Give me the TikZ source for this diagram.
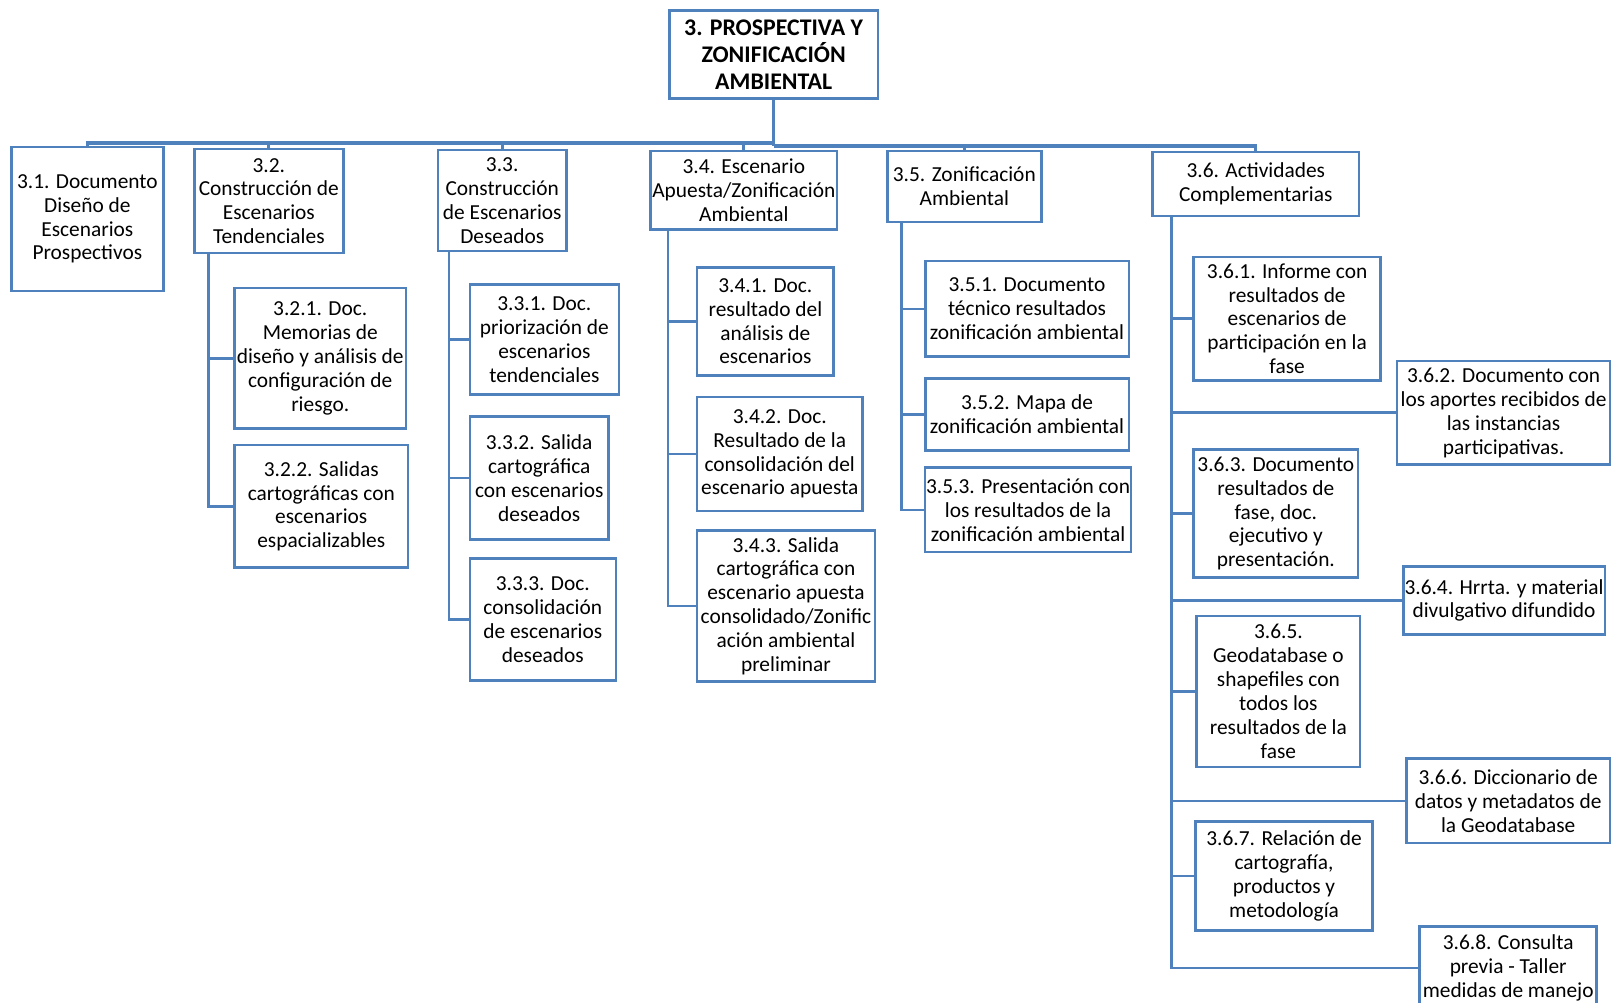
\documentclass[tikz,border=0pt]{standalone}
\usepackage{fontspec}
\setmainfont{Carlito}
\definecolor{bl}{RGB}{79,129,189}
\tikzset{
  box/.style={draw=bl, line width=1.25pt, align=center, inner sep=0.5pt,
    font=\fontsize{10.4}{11.6}\selectfont, text=black},
  rootbox/.style={box, font=\bfseries\fontsize{11.6}{13}\selectfont},
  conn/.style={draw=bl, line width=1.25pt},
  bus/.style={draw=bl, line width=1.6pt}
}
\newcommand\bx[7][box]{\node[#1, minimum width={(#5-#3)*0.5pt}, minimum height={(#6-#4)*0.5pt}] (#2) at ({(#3+#5)/2},{(#4+#6)/2}) {#7};}
\begin{document}
\begin{tikzpicture}[x=0.5pt,y=-0.5pt]
\useasboundingbox[fill=white] (0,0) rectangle (1568,975);
% root
\bx[rootbox]{root}{651}{10}{854}{96}{3. PROSPECTIVA Y\\ZONIFICACIÓN\\AMBIENTAL}
% level 1
\bx{p31}{11}{143}{159}{283}{3.1. Documento\\Diseño de\\Escenarios\\Prospectivos}
\bx{p32}{189}{145}{334}{246}{3.2.\\Construcción de\\Escenarios\\Tendenciales}
\bx{p33}{426}{146}{551}{244}{3.3.\\Construcción\\de Escenarios\\Deseados}
\bx{p34}{633}{147}{814}{223}{3.4. Escenario\\Apuesta/Zonificación\\Ambiental}
\bx{p35}{863}{147}{1013}{216}{3.5. Zonificación\\Ambiental}
\bx{p36}{1121}{148}{1322}{210}{3.6. Actividades\\Complementarias}
% 3.2
\bx{c321}{228}{280}{395}{417}{3.2.1. Doc.\\Memorias de\\diseño y análisis de\\configuración de\\riesgo.}
\bx{c322}{228}{433}{397}{552}{3.2.2. Salidas\\cartográficas con\\escenarios\\espacializables}
% 3.3
\bx{c331}{457}{277}{602}{384}{3.3.1. Doc.\\priorización de\\escenarios\\tendenciales}
\bx{c332}{457}{405}{592}{525}{3.3.2. Salida\\cartográfica\\con escenarios\\deseados}
\bx{c333}{457}{543}{599}{662}{3.3.3. Doc.\\consolidación\\de escenarios\\deseados}
% 3.4
\bx{c341}{678}{260}{811}{365}{3.4.1. Doc.\\resultado del\\análisis de\\escenarios}
\bx{c342}{678}{386}{839}{497}{3.4.2. Doc.\\Resultado de la\\consolidación del\\escenario apuesta}
\bx{c343}{678}{516}{851}{663}{3.4.3. Salida\\cartográfica con\\escenario apuesta\\consolidado/Zonific\\ación ambiental\\preliminar}
% 3.5
\bx{c351}{900}{254}{1098}{347}{3.5.1. Documento\\técnico resultados\\zonificación ambiental}
\bx{c352}{900}{368}{1098}{438}{3.5.2. Mapa de\\zonificación ambiental}
\bx{c353}{900}{455}{1100}{537}{3.5.3. Presentación con\\los resultados de la\\zonificación ambiental}
% 3.6
\bx{c361}{1161}{250}{1343}{370}{3.6.1. Informe con\\resultados de\\escenarios de\\participación en la\\fase}
\bx{c362}{1359}{351}{1566}{452}{3.6.2. Documento con\\los aportes recibidos de\\las instancias\\participativas.}
\bx{c363}{1161}{437}{1321}{562}{3.6.3. Documento\\resultados de\\fase, doc.\\ejecutivo y\\presentación.}
\bx{c364}{1365}{551}{1561}{617}{3.6.4. Hrrta. y material\\divulgativo difundido}
\bx{c365}{1164}{599}{1323}{746}{3.6.5.\\Geodatabase o\\shapefiles con\\todos los\\resultados de la\\fase}
\bx{c366}{1368}{738}{1566}{820}{3.6.6. Diccionario de\\datos y metadatos de\\la Geodatabase}
\bx{c367}{1163}{799}{1335}{905}{3.6.7. Relación de\\cartografía,\\productos y\\metodología}
\bx{c368}{1381}{901}{1553}{982}{3.6.8. Consulta\\previa - Taller\\medidas de manejo}
% top bus
\coordinate (bjL) at (752.5,139);
\coordinate (bjR) at (752.5,142);
\draw[bus] (root.south) -- (bjR);
\draw[bus] (bjL) -| (p31.north);
\draw[bus] (bjL) -| (p32.north);
\draw[bus] (bjL) -| (p33.north);
\draw[bus] (bjL) -| (p34.north);
\draw[bus] (bjR) -| (p35.north);
\draw[bus] (bjR) -| (p36.north);
% 3.2 branch
\draw[conn] ([xshift=7.5pt]p32.south west) |- (c321.west);
\draw[conn] ([xshift=7.5pt]p32.south west) |- (c322.west);
% 3.3 branch
\draw[conn] ([xshift=6pt]p33.south west) |- (c331.west);
\draw[conn] ([xshift=6pt]p33.south west) |- (c332.west);
\draw[conn] ([xshift=6pt]p33.south west) |- (c333.west);
% 3.4 branch
\draw[conn] ([xshift=9pt]p34.south west) |- (c341.west);
\draw[conn] ([xshift=9pt]p34.south west) |- (c342.west);
\draw[conn] ([xshift=9pt]p34.south west) |- (c343.west);
% 3.5 branch
\draw[conn] ([xshift=7.5pt]p35.south west) |- (c351.west);
\draw[conn] ([xshift=7.5pt]p35.south west) |- (c352.west);
\draw[conn] ([xshift=7.5pt]p35.south west) |- (c353.west);
% 3.6 branch
\foreach \c in {c361,c362,c363,c364,c365,c366,c367,c368}
  \draw[conn] ([xshift=10pt]p36.south west) |- (\c.west);
\end{tikzpicture}
\end{document}
